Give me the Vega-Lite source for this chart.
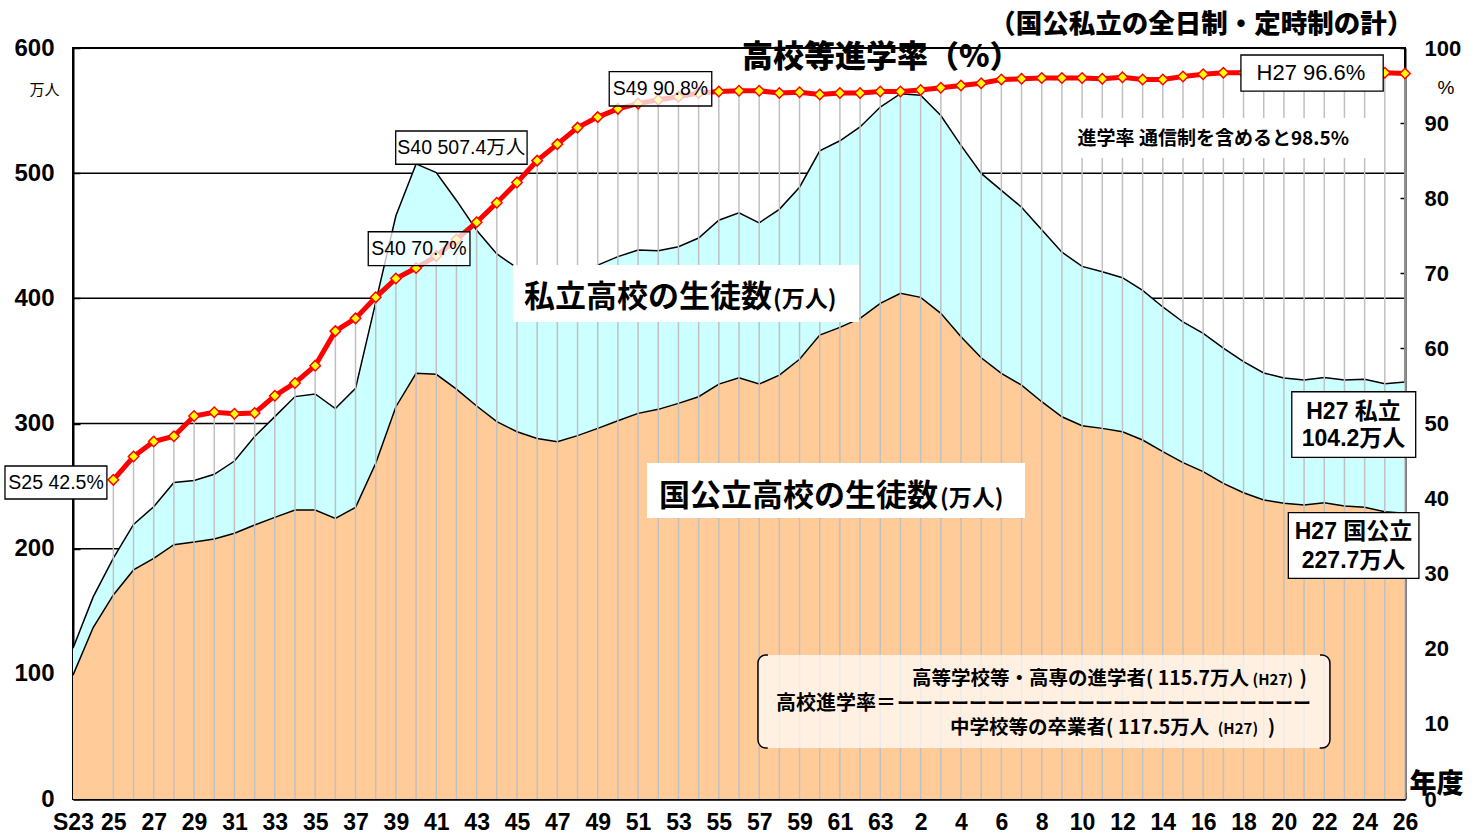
{
"$schema": "https://vega.github.io/schema/vega-lite/v6.json",
"width": 1332, "height": 751,
"autosize": {"type": "none"},
"padding": {"left": 73, "top": 48, "right": 75, "bottom": 37},
"background": "white",
"config": {
  "view": {"stroke": "black", "strokeWidth": 2},
  "axis": {"grid": false, "labelColor": "black", "tickColor": "black", "domainColor": "black", "labelFont": "Liberation Sans", "labelFontWeight": "bold", "zindex": 1}
},
"data": {"values": [
{"year":1948,"total":120.4,"national":99.0,"rate":null},
{"year":1949,"total":161.5,"national":137.0,"rate":null},
{"year":1950,"total":192.5,"national":163.0,"rate":42.5},
{"year":1951,"total":219.4,"national":183.0,"rate":45.6},
{"year":1952,"total":233.5,"national":192.3,"rate":47.6},
{"year":1953,"total":252.8,"national":203.2,"rate":48.3},
{"year":1954,"total":254.5,"national":205.3,"rate":51.0},
{"year":1955,"total":259.4,"national":207.7,"rate":51.5},
{"year":1956,"total":270.0,"national":212.3,"rate":51.3},
{"year":1957,"total":289.6,"national":218.9,"rate":51.4},
{"year":1958,"total":305.5,"national":225.0,"rate":53.7},
{"year":1959,"total":321.5,"national":230.9,"rate":55.4},
{"year":1960,"total":323.6,"national":230.9,"rate":57.7},
{"year":1961,"total":311.9,"national":224.2,"rate":62.3},
{"year":1962,"total":328.1,"national":233.0,"rate":64.0},
{"year":1963,"total":397.0,"national":268.2,"rate":66.8},
{"year":1964,"total":466.0,"national":313.4,"rate":69.3},
{"year":1965,"total":507.4,"national":340.1,"rate":70.7},
{"year":1966,"total":500.4,"national":339.3,"rate":72.3},
{"year":1967,"total":478.2,"national":327.5,"rate":74.5},
{"year":1968,"total":454.4,"national":314.0,"rate":76.8},
{"year":1969,"total":435.5,"national":301.5,"rate":79.4},
{"year":1970,"total":424.3,"national":293.4,"rate":82.1},
{"year":1971,"total":417.8,"national":288.1,"rate":85.0},
{"year":1972,"total":415.0,"national":285.5,"rate":87.2},
{"year":1973,"total":420.1,"national":290.3,"rate":89.4},
{"year":1974,"total":426.5,"national":296.1,"rate":90.8},
{"year":1975,"total":433.3,"national":302.2,"rate":91.9},
{"year":1976,"total":438.6,"national":308.1,"rate":92.6},
{"year":1977,"total":438.0,"national":311.3,"rate":93.1},
{"year":1978,"total":441.2,"national":316.1,"rate":93.5},
{"year":1979,"total":448.2,"national":321.4,"rate":94.0},
{"year":1980,"total":462.4,"national":331.5,"rate":94.2},
{"year":1981,"total":468.3,"national":336.6,"rate":94.3},
{"year":1982,"total":460.3,"national":331.5,"rate":94.3},
{"year":1983,"total":471.1,"national":338.7,"rate":94.0},
{"year":1984,"total":488.8,"national":351.3,"rate":94.1},
{"year":1985,"total":517.8,"national":370.7,"rate":93.8},
{"year":1986,"total":525.9,"national":376.8,"rate":94.0},
{"year":1987,"total":536.9,"national":384.0,"rate":94.0},
{"year":1988,"total":552.8,"national":396.0,"rate":94.2},
{"year":1989,"total":563.5,"national":404.0,"rate":94.2},
{"year":1990,"total":562.3,"national":400.8,"rate":94.4},
{"year":1991,"total":546.0,"national":388.0,"rate":94.7},
{"year":1992,"total":522.2,"national":369.3,"rate":95.0},
{"year":1993,"total":499.8,"national":352.5,"rate":95.3},
{"year":1994,"total":486.3,"national":340.1,"rate":95.8},
{"year":1995,"total":472.8,"national":330.7,"rate":95.9},
{"year":1996,"total":454.7,"national":317.4,"rate":96.0},
{"year":1997,"total":436.9,"national":305.4,"rate":96.0},
{"year":1998,"total":425.5,"national":298.2,"rate":96.0},
{"year":1999,"total":421.2,"national":296.1,"rate":95.9},
{"year":2000,"total":416.5,"national":293.4,"rate":96.1},
{"year":2001,"total":406.4,"national":286.8,"rate":95.8},
{"year":2002,"total":393.1,"national":277.5,"rate":95.8},
{"year":2003,"total":381.1,"national":268.7,"rate":96.2},
{"year":2004,"total":372.0,"national":261.5,"rate":96.5},
{"year":2005,"total":360.3,"national":252.2,"rate":96.7},
{"year":2006,"total":349.4,"national":244.7,"rate":96.7},
{"year":2007,"total":340.4,"national":238.9,"rate":96.7},
{"year":2008,"total":336.4,"national":236.2,"rate":96.7},
{"year":2009,"total":334.7,"national":234.9,"rate":96.7},
{"year":2010,"total":336.8,"national":236.7,"rate":96.7},
{"year":2011,"total":334.8,"national":234.1,"rate":96.7},
{"year":2012,"total":335.4,"national":233.0,"rate":96.7},
{"year":2013,"total":331.8,"national":229.5,"rate":96.7},
{"year":2014,"total":333.2,"national":228.2,"rate":96.6}
]},
"layer": [
  {
    "layer": [
      {"data": {"values": [{"g":100},{"g":200},{"g":300},{"g":400},{"g":500}]},
       "mark": {"type": "rule", "color": "black", "strokeWidth": 1.5},
       "encoding": {"y": {"field": "g", "type": "quantitative"}}},
      {"mark": {"type": "area", "color": "#CCFFFF", "opacity": 1, "fillOpacity": 1, "line": {"color": "black", "strokeWidth": 1.5}},
       "encoding": {
         "x": {"field": "year", "type": "quantitative",
               "scale": {"domain": [1948, 2014], "nice": false, "zero": false},
               "axis": {"orient": "bottom", "title": null,
                        "values": [1948,1949,1950,1951,1952,1953,1954,1955,1956,1957,1958,1959,1960,1961,1962,1963,1964,1965,1966,1967,1968,1969,1970,1971,1972,1973,1974,1975,1976,1977,1978,1979,1980,1981,1982,1983,1984,1985,1986,1987,1988,1989,1990,1991,1992,1993,1994,1995,1996,1997,1998,1999,2000,2001,2002,2003,2004,2005,2006,2007,2008,2009,2010,2011,2012,2013,2014],
                        "labelExpr": "datum.value % 2 == 1 ? '' : (datum.value == 1948 ? 'S23' : (datum.value <= 1988 ? '' + (datum.value - 1925) : '' + (datum.value - 1988)))",
                        "tickSize": -7, "tickWidth": 1.5, "domainWidth": 2.5,
                        "labelFontSize": 23, "labelPadding": 19.5, "labelFlush": false,
                        "labelOverlap": false, "labelAngle": 0, "labelBound": false}},
         "y": {"field": "total", "type": "quantitative",
               "scale": {"domain": [0, 600], "nice": false, "zero": true},
               "axis": {"orient": "left", "title": null, "values": [0,100,200,300,400,500,600],
                        "tickSize": -7, "tickWidth": 1.5, "domainWidth": 2,
                        "labelFontSize": 24, "labelPadding": 26}}}},
      {"mark": {"type": "area", "color": "#FFCC99", "opacity": 1, "fillOpacity": 1, "line": {"color": "black", "strokeWidth": 1.5}},
       "encoding": {
         "x": {"field": "year", "type": "quantitative"},
         "y": {"field": "national", "type": "quantitative"}}}
    ]
  },
  {
    "layer": [
      {"mark": {"type": "rule", "color": "#C0C0C0", "strokeWidth": 1.5},
       "encoding": {
         "x": {"field": "year", "type": "quantitative"},
         "y": {"field": "rate", "type": "quantitative",
               "scale": {"domain": [0, 100], "nice": false, "zero": true},
               "axis": {"orient": "right", "title": null, "values": [0,10,20,30,40,50,60,70,80,90,100],
                        "tickSize": -5, "tickWidth": 1.5, "domainWidth": 2,
                        "labelFontSize": 22, "labelPadding": 24}},
         "y2": {"datum": 0}}},
      {"mark": {"type": "line", "color": "#FF0000", "strokeWidth": 5},
       "encoding": {"x": {"field": "year", "type": "quantitative"}, "y": {"field": "rate", "type": "quantitative"}}},
      {"mark": {"type": "point", "shape": "diamond", "filled": true, "fill": "#FFFF00", "stroke": "#FF0000", "strokeWidth": 1.5, "size": 110, "opacity": 1},
       "encoding": {"x": {"field": "year", "type": "quantitative"}, "y": {"field": "rate", "type": "quantitative"}}},
      {
        "data": {"values": [{"a": 1}]},
        "layer": [
          {"mark": {"type": "rect", "fill": "white"},
           "encoding": {"x": {"datum": 1969.80}, "x2": {"datum": 1986.95}, "y": {"datum": 71.10}, "y2": {"datum": 63.52}}},
          {"mark": {"type": "text", "text": "私立高校の生徒数", "font": "Noto Sans CJK JP", "fontWeight": "bold", "fontSize": 31, "align": "left", "baseline": "alphabetic", "color": "black"},
           "encoding": {"x": {"datum": 1970.35}, "y": {"datum": 65.45}}},
          {"mark": {"type": "text", "text": "(万人)", "font": "Noto Sans CJK JP", "fontWeight": "bold", "fontSize": 23, "align": "left", "baseline": "alphabetic", "color": "black"},
           "encoding": {"x": {"datum": 1982.69}, "y": {"datum": 65.45}}},
          {"mark": {"type": "rect", "fill": "white"},
           "encoding": {"x": {"datum": 1976.44}, "x2": {"datum": 1995.17}, "y": {"datum": 44.73}, "y2": {"datum": 37.42}}},
          {"mark": {"type": "text", "text": "国公立高校の生徒数", "font": "Noto Sans CJK JP", "fontWeight": "bold", "fontSize": 31, "align": "left", "baseline": "alphabetic", "color": "black"},
           "encoding": {"x": {"datum": 1977.04}, "y": {"datum": 38.97}}},
          {"mark": {"type": "text", "text": "(万人)", "font": "Noto Sans CJK JP", "fontWeight": "bold", "fontSize": 23, "align": "left", "baseline": "alphabetic", "color": "black"},
           "encoding": {"x": {"datum": 1990.96}, "y": {"datum": 38.97}}},
          {"mark": {"type": "rect", "fill": "white"},
           "encoding": {"x": {"datum": 1997.55}, "x2": {"datum": 2012.12}, "y": {"datum": 90.68}, "y2": {"datum": 85.35}}},
          {"mark": {"type": "text", "text": "進学率 通信制を含めると98.5%", "font": "Noto Sans CJK JP", "fontWeight": "bold", "fontSize": 19, "align": "center", "baseline": "middle", "color": "black"},
           "encoding": {"x": {"datum": 2004.5}, "y": {"datum": 87.88}}},
          {"mark": {"type": "rect", "fill": "white", "stroke": "black", "strokeWidth": 1.3},
           "encoding": {"x": {"datum": 1944.63}, "x2": {"datum": 1949.68}, "y": {"datum": 44.34}, "y2": {"datum": 39.95}}},
          {"mark": {"type": "text", "text": "S25 42.5%", "font": "Liberation Sans, Noto Sans CJK JP", "fontSize": 19.5, "align": "center", "baseline": "middle", "color": "black"},
           "encoding": {"x": {"datum": 1947.16}, "y": {"datum": 42.08}}},
          {"mark": {"type": "rect", "fill": "white", "stroke": "black", "strokeWidth": 1.3},
           "encoding": {"x": {"datum": 1963.99}, "x2": {"datum": 1970.50}, "y": {"datum": 88.95}, "y2": {"datum": 84.52}}},
          {"mark": {"type": "text", "text": "S40 507.4万人", "font": "Liberation Sans, Noto Sans CJK JP", "fontSize": 19.5, "align": "center", "baseline": "middle", "color": "black"},
           "encoding": {"x": {"datum": 1967.24}, "y": {"datum": 86.75}}},
          {"mark": {"type": "rect", "fill": "white", "fillOpacity": 0.75, "stroke": "black", "strokeWidth": 1.3},
           "encoding": {"x": {"datum": 1962.63}, "x2": {"datum": 1967.67}, "y": {"datum": 75.53}, "y2": {"datum": 71.02}}},
          {"mark": {"type": "text", "text": "S40 70.7%", "font": "Liberation Sans, Noto Sans CJK JP", "fontSize": 19.5, "align": "center", "baseline": "middle", "color": "black"},
           "encoding": {"x": {"datum": 1965.14}, "y": {"datum": 73.23}}},
          {"mark": {"type": "rect", "fill": "white", "fillOpacity": 0.75, "stroke": "black", "strokeWidth": 1.3},
           "encoding": {"x": {"datum": 1974.57}, "x2": {"datum": 1979.65}, "y": {"datum": 96.85}, "y2": {"datum": 92.28}}},
          {"mark": {"type": "text", "text": "S49 90.8%", "font": "Liberation Sans, Noto Sans CJK JP", "fontSize": 19.5, "align": "center", "baseline": "middle", "color": "black"},
           "encoding": {"x": {"datum": 1977.11}, "y": {"datum": 94.53}}},
          {"mark": {"type": "rect", "fill": "white", "stroke": "black", "strokeWidth": 1.3},
           "encoding": {"x": {"datum": 2005.87}, "x2": {"datum": 2012.92}, "y": {"datum": 99.07}, "y2": {"datum": 94.27}}},
          {"mark": {"type": "text", "text": "H27 96.6%", "font": "Liberation Sans, Noto Sans CJK JP", "fontSize": 22, "align": "center", "baseline": "middle", "color": "black"},
           "encoding": {"x": {"datum": 2009.34}, "y": {"datum": 96.67}}},
          {"mark": {"type": "rect", "fill": "white", "stroke": "black", "strokeWidth": 1.3},
           "encoding": {"x": {"datum": 2008.39}, "x2": {"datum": 2014.53}, "y": {"datum": 54.23}, "y2": {"datum": 45.5}}},
          {"mark": {"type": "text", "text": "H27 私立", "font": "Liberation Sans, Noto Sans CJK JP", "fontWeight": "bold", "fontSize": 23, "align": "center", "baseline": "middle", "color": "black"},
           "encoding": {"x": {"datum": 2011.45}, "y": {"datum": 51.57}}},
          {"mark": {"type": "text", "text": "104.2万人", "font": "Liberation Sans, Noto Sans CJK JP", "fontWeight": "bold", "fontSize": 23, "align": "center", "baseline": "middle", "color": "black"},
           "encoding": {"x": {"datum": 2011.45}, "y": {"datum": 48.0}}},
          {"mark": {"type": "rect", "fill": "white", "stroke": "black", "strokeWidth": 1.3},
           "encoding": {"x": {"datum": 2008.22}, "x2": {"datum": 2014.69}, "y": {"datum": 38.12}, "y2": {"datum": 29.38}}},
          {"mark": {"type": "text", "text": "H27 国公立", "font": "Liberation Sans, Noto Sans CJK JP", "fontWeight": "bold", "fontSize": 23, "align": "center", "baseline": "middle", "color": "black"},
           "encoding": {"x": {"datum": 2011.45}, "y": {"datum": 35.6}}},
          {"mark": {"type": "text", "text": "227.7万人", "font": "Liberation Sans, Noto Sans CJK JP", "fontWeight": "bold", "fontSize": 23, "align": "center", "baseline": "middle", "color": "black"},
           "encoding": {"x": {"datum": 2011.45}, "y": {"datum": 31.75}}},
          {"mark": {"type": "rect", "fill": "white", "fillOpacity": 0.7, "stroke": "black", "strokeWidth": 1.5, "cornerRadius": 8, "strokeDash": [2, 552, 106.13, 552, 104.13]},
           "encoding": {"x": {"datum": 1981.94}, "x2": {"datum": 2010.28}, "y": {"datum": 19.175}, "y2": {"datum": 6.791}}},
          {"mark": {"type": "text", "text": "高校進学率＝", "font": "Noto Sans CJK JP", "fontWeight": "bold", "fontSize": 20, "align": "left", "baseline": "alphabetic", "color": "black"},
           "encoding": {"x": {"datum": 1982.83}, "y": {"datum": 11.85}}},
          {"mark": {"type": "text", "text": "ーーーーーーーーーーーーーーーーーーーーーーー", "font": "Noto Sans CJK JP", "fontWeight": "bold", "fontSize": 18, "align": "left", "baseline": "alphabetic", "color": "black"},
           "encoding": {"x": {"datum": 1988.83}, "y": {"datum": 11.85}}},
          {"mark": {"type": "text", "text": "高等学校等・高専の進学者( 115.7万人", "font": "Noto Sans CJK JP", "fontWeight": "bold", "fontSize": 19.5, "align": "left", "baseline": "alphabetic", "color": "black"},
           "encoding": {"x": {"datum": 1989.57}, "y": {"datum": 15.18}}},
          {"mark": {"type": "text", "text": "(H27)", "font": "Noto Sans CJK JP", "fontWeight": "bold", "fontSize": 15, "align": "right", "baseline": "alphabetic", "color": "black"},
           "encoding": {"x": {"datum": 2008.45}, "y": {"datum": 15.18}}},
          {"mark": {"type": "text", "text": ")", "font": "Noto Sans CJK JP", "fontWeight": "bold", "fontSize": 19.5, "align": "right", "baseline": "alphabetic", "color": "black"},
           "encoding": {"x": {"datum": 2009.14}, "y": {"datum": 15.18}}},
          {"mark": {"type": "text", "text": "中学校等の卒業者( 117.5万人", "font": "Noto Sans CJK JP", "fontWeight": "bold", "fontSize": 19.5, "align": "left", "baseline": "alphabetic", "color": "black"},
           "encoding": {"x": {"datum": 1991.46}, "y": {"datum": 8.72}}},
          {"mark": {"type": "text", "text": "(H27)", "font": "Noto Sans CJK JP", "fontWeight": "bold", "fontSize": 15, "align": "right", "baseline": "alphabetic", "color": "black"},
           "encoding": {"x": {"datum": 2006.72}, "y": {"datum": 8.72}}},
          {"mark": {"type": "text", "text": ")", "font": "Noto Sans CJK JP", "fontWeight": "bold", "fontSize": 19.5, "align": "right", "baseline": "alphabetic", "color": "black"},
           "encoding": {"x": {"datum": 2007.56}, "y": {"datum": 8.72}}},
          {"mark": {"type": "text", "text": "万人", "font": "Noto Sans CJK JP", "fontSize": 15, "align": "center", "baseline": "middle", "color": "black"},
           "encoding": {"x": {"datum": 1946.59}, "y": {"datum": 94.4}}},
          {"mark": {"type": "text", "text": "%", "font": "Liberation Sans", "fontSize": 19, "align": "center", "baseline": "middle", "color": "black"},
           "encoding": {"x": {"datum": 2016.03}, "y": {"datum": 94.67}}},
          {"mark": {"type": "text", "text": "高校等進学率（%）", "font": "Noto Sans CJK JP", "fontWeight": 900, "fontSize": 31, "align": "left", "baseline": "middle", "color": "black"},
           "encoding": {"x": {"datum": 1981.15}, "y": {"datum": 98.67}}},
          {"mark": {"type": "text", "text": "（国公私立の全日制・定時制の計）", "font": "Noto Sans CJK JP", "fontWeight": 900, "fontSize": 26.5, "align": "left", "baseline": "middle", "color": "black"},
           "encoding": {"x": {"datum": 1993.4}, "y": {"datum": 103.07}}},
          {"mark": {"type": "text", "text": "年度", "font": "Noto Sans CJK JP", "fontWeight": 900, "fontSize": 27, "align": "center", "baseline": "middle", "color": "black"},
           "encoding": {"x": {"datum": 2015.56}, "y": {"datum": 1.87}}}
        ]
      }
    ]
  }
],
"resolve": {"scale": {"y": "independent"}}
}
